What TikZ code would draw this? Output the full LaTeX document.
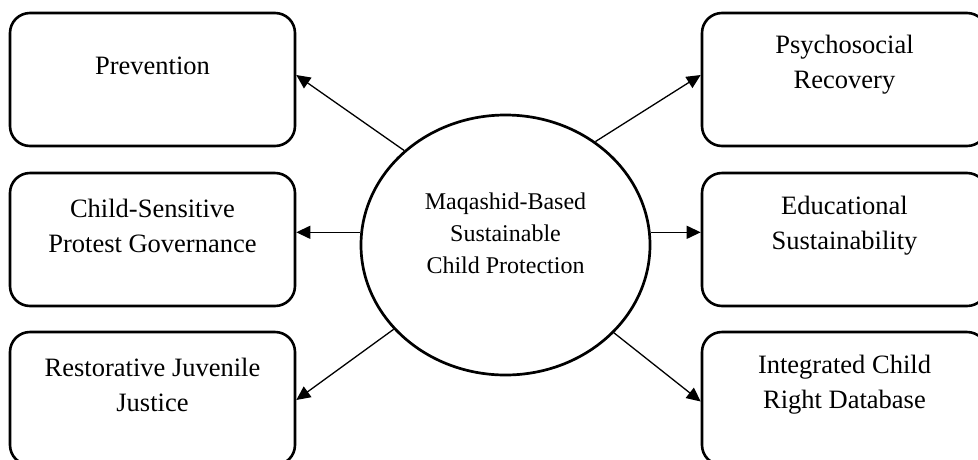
\documentclass[tikz,border=0pt]{standalone}
\usepackage{fontspec}
\setmainfont{Liberation Serif}
\usetikzlibrary{arrows.meta,shapes.geometric,calc}
\begin{document}
\begin{tikzpicture}[x=1pt,y=-1pt,
  boxshape/.style={draw=black, line width=2.6pt, rounded corners=20pt, minimum width=285pt, minimum height=133pt, inner sep=0pt},
  boxtext/.style={align=center, font=\fontsize{26.5}{35}\selectfont, inner sep=0pt},
  centertext/.style={align=center, font=\fontsize{24}{32}\selectfont, inner sep=0pt},
  ellshape/.style={draw=black, line width=2.7pt, ellipse, minimum width=289pt, minimum height=260pt, inner sep=0pt},
  arr/.style={line width=1.3pt, -{Triangle[length=14pt,width=13pt]}}
]
\clip (0,0) rectangle (978,459);
% left boxes
\node[boxshape] (prev) at (152.5,79.5) {};
\node[boxtext] (prevt) at (152.5,66) {Prevention};
\node[boxshape] (csp) at (152.5,239.5) {};
\node[boxtext] (cspt) at (152.5,225.5) {Child-Sensitive\\Protest Governance};
\node[boxshape] (rjj) at (152.5,398.5) {};
\node[boxtext] (rjjt) at (152.5,384.5) {Restorative Juvenile\\Justice};
% right boxes
\node[boxshape] (psy) at (844.5,79.5) {};
\node[boxtext] (psyt) at (844.5,65) {Psychosocial\\Recovery};
\node[boxshape] (edu) at (844.5,239.5) {};
\node[boxtext] (edut) at (844.5,225.5) {Educational\\Sustainability};
\node[boxshape] (icr) at (844.5,398.5) {};
\node[boxtext] (icrt) at (844.5,384.5) {Integrated Child\\Right Database};
% centre
\node[ellshape] (ell) at (505.5,245) {};
\node[centertext] (ellt) at (505.5,233.5) {Maqashid-Based\\Sustainable\\Child Protection};
% arrows
\draw[arr] (ell.137) -- ($(prev.east)+(0,-4.5)$);
\draw[arr] (ell.175) -- (ell.175 -| csp.east);
\draw[arr] (ell.217) -- ($(rjj.east)+(0,1.5)$);
\draw[arr] (ell.49) -- ($(psy.west)+(0,-4.5)$);
\draw[arr] (ell.5) -- (ell.5 -| edu.west);
\draw[arr] (ell.321) -- ($(icr.west)+(0,3)$);
\end{tikzpicture}
\end{document}
